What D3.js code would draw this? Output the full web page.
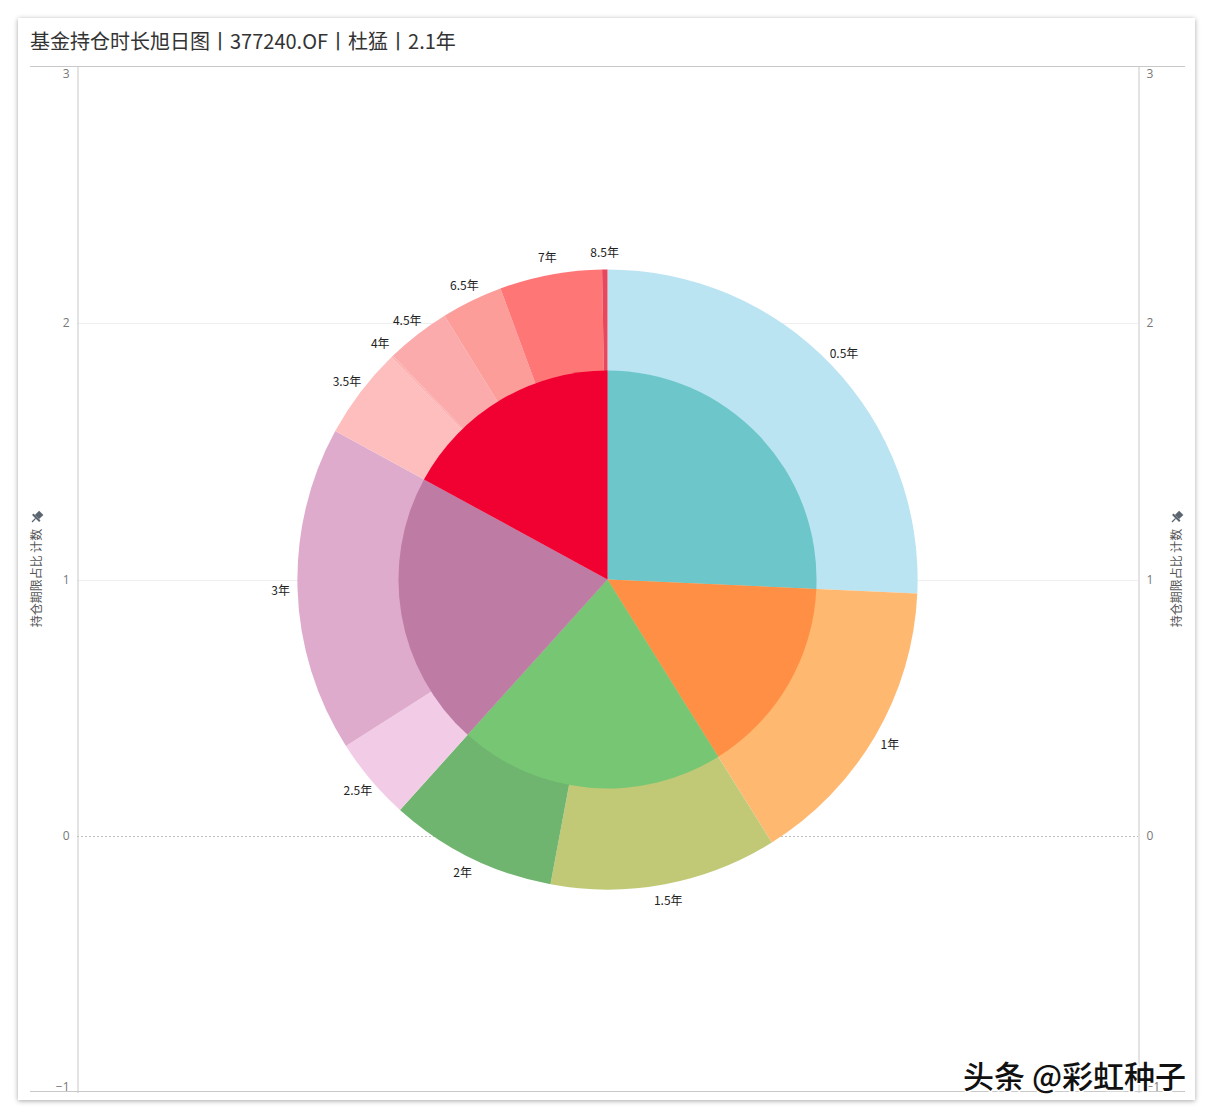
<!DOCTYPE html>
<html><head><meta charset="utf-8">
<script src="https://cdn.jsdelivr.net/npm/d3@7"></script>
<style>
html,body{margin:0;padding:0;background:#fff;}
svg{display:block;}
</style></head>
<body>
<svg id="chart" width="1214" height="1120"></svg>
<script>
// ---------- data ----------
const titleText = "基金持仓时长旭日图丨377240.OF丨杜猛丨2.1年";
const axisTitle = "持仓期限占比 计数";
const periods = ["0.5年","1年","1.5年","2年","2.5年","3年","3.5年","4年","4.5年","6.5年","7年","8.5年"];
const counts  = [92.6, 55.4, 42.6, 31.4, 15.5, 61.1, 17.2, 0.4, 12.1, 11.5, 19.2, 1.0];
const groups  = ["A","B","C","C","D","D","E","E","E","E","E","E"];
const outerColors = ["#bbe4f2","#ffb870","#c1c977","#6fb46f","#f2cbe7","#dfabcc","#fdbebd","#fcb2b1","#fbabab","#fc9d99","#ff7677","#e8475c"];
const groupNames = ["A","B","C","D","E"];
const innerColors = ["#6dc7ca","#ff8f45","#77c673","#be7ca5","#f10131"];
const yTicks = [-1,0,1,2,3];

// ---------- layout ----------
const svg = d3.select("#chart");
const defs = svg.append("defs");
const f = defs.append("filter").attr("id","sh").attr("x","-5%").attr("y","-5%").attr("width","110%").attr("height","110%");
f.append("feDropShadow").attr("dx",0).attr("dy",1).attr("stdDeviation",2.5).attr("flood-color","#000").attr("flood-opacity",0.35);

svg.append("rect").attr("x",18).attr("y",18).attr("width",1177).attr("height",1082)
  .attr("fill","#fff").attr("filter","url(#sh)");

svg.append("text").attr("x",30).attr("y",49)
  .attr("font-family","'Noto Sans CJK SC','Noto Sans',sans-serif").attr("font-size",20)
  .attr("fill","#333").text(titleText);

const xL = 77, xR = 1138;
const y = d3.scaleLinear().domain([-1,3]).range([1092.5,66.5]);

// frame lines
svg.append("line").attr("x1",30).attr("x2",1185).attr("y1",66.5).attr("y2",66.5).attr("stroke","#c8c8c8");
svg.append("line").attr("x1",30).attr("x2",1185).attr("y1",1091.5).attr("y2",1091.5).attr("stroke","#c8c8c8");

// gridlines
yTicks.filter(t=>t>-1 && t<3).forEach(t=>{
  svg.append("line").attr("x1",xL).attr("x2",xR).attr("y1",Math.round(y(t))+0.5).attr("y2",Math.round(y(t))+0.5)
    .attr("stroke", t===0 ? "#bdbdbd" : "#efefef")
    .attr("stroke-dasharray", t===0 ? "2,2" : null);
});

// axes
const leftAxis = d3.axisLeft(y).tickValues(yTicks).tickSize(0).tickPadding(8).tickFormat(d3.format("d"));
const rightAxis = d3.axisRight(y).tickValues(yTicks).tickSize(0).tickPadding(8).tickFormat(d3.format("d"));
const gl = svg.append("g").attr("transform",`translate(${xL+0.5},0)`).call(leftAxis);
const gr = svg.append("g").attr("transform",`translate(${xR+0.5},0)`).call(rightAxis);
[gl,gr].forEach(g=>{
  g.select(".domain").attr("stroke","#c8c8c8");
  g.selectAll("text").attr("font-family","'Open Sans','Noto Sans',sans-serif").attr("font-size",12).attr("fill","#777")
   .attr("dy", d => d===3 ? "0.95em" : d===-1 ? "-0.2em" : "0.32em");
});

// axis titles with pin
function axisTitleAt(x){
  const g = svg.append("g").attr("transform",`translate(${x},578) rotate(-90)`);
  g.append("text").attr("text-anchor","middle").attr("dy","0.35em")
    .attr("font-family","'Noto Sans CJK SC',sans-serif").attr("font-size",12).attr("fill","#555").text(axisTitle);
  // pin icon
  const p = svg.append("g").attr("transform",`translate(${x},517) rotate(45)`);
  p.append("rect").attr("x",-3).attr("y",-6).attr("width",6).attr("height",6).attr("fill","#5b6570");
  p.append("rect").attr("x",-5).attr("y",0).attr("width",10).attr("height",2).attr("fill","#5b6570");
  p.append("line").attr("x1",0).attr("x2",0).attr("y1",2).attr("y2",7).attr("stroke","#5b6570").attr("stroke-width",1.3);
}
axisTitleAt(37);
axisTitleAt(1177);

// ---------- sunburst ----------
const cx = (xL + xR)/2, cy = y(1);
const unit = y(0) - y(1);
const rOuter = 1.209 * unit, rInner = 0.815 * unit;

const outerData = periods.map((p,i)=>({name:p, value:counts[i], color:outerColors[i]}));
const groupSums = d3.rollup(periods.map((p,i)=>({g:groups[i], v:counts[i]})), v=>d3.sum(v,d=>d.v), d=>d.g);
const innerData = groupNames.map((g,i)=>({name:g, value:groupSums.get(g), color:innerColors[i]}));

const pie = d3.pie().sort(null).value(d=>d.value);
const g = svg.append("g").attr("transform",`translate(${cx},${cy})`);
const arcOuter = d3.arc().innerRadius(0).outerRadius(rOuter);
const arcInner = d3.arc().innerRadius(0).outerRadius(rInner);

g.selectAll("path.o").data(pie(outerData)).join("path").attr("class","o")
  .attr("d",arcOuter).attr("fill",d=>d.data.color);
g.selectAll("path.i").data(pie(innerData)).join("path").attr("class","i")
  .attr("d",arcInner).attr("fill",d=>d.data.color);

const rLabel = rOuter + 17;
g.selectAll("text.lbl").data(pie(outerData)).join("text").attr("class","lbl")
  .attr("x",d=>rLabel*Math.sin((d.startAngle+d.endAngle)/2))
  .attr("y",d=>-rLabel*Math.cos((d.startAngle+d.endAngle)/2))
  .attr("text-anchor","middle").attr("dy","0.35em")
  .attr("font-family","'Noto Sans CJK SC','Open Sans',sans-serif").attr("font-size",12).attr("fill","#222")
  .text(d=>d.data.name);

// watermark
svg.append("text").attr("x",963).attr("y",1088)
  .attr("font-family","'Noto Sans CJK SC',sans-serif").attr("font-size",31).attr("font-weight",500)
  .attr("fill","#111").attr("stroke","#fff").attr("stroke-width",3).attr("paint-order","stroke")
  .text("头条 @彩虹种子");
</script>
</body></html>
